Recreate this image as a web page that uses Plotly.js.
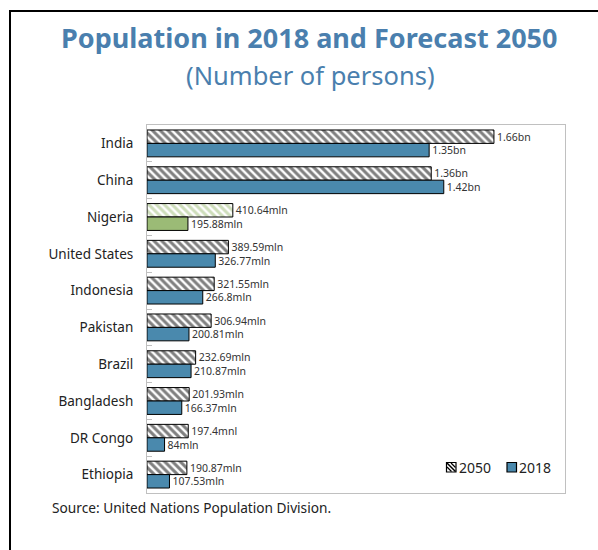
<!DOCTYPE html>
<html><head><meta charset="utf-8">
<script src="https://cdn.plot.ly/plotly-3.0.1.min.js"></script>
<style>html,body{margin:0;padding:0;background:#fff;}#chart{width:598px;height:550px;}</style>
</head><body><div id="chart"></div>
<script>
const countries = ["India","China","Nigeria","United States","Indonesia","Pakistan","Brazil","Bangladesh","DR Congo","Ethiopia"];
const pop2050 = [1660e6,1360e6,410.64e6,389.59e6,321.55e6,306.94e6,232.69e6,201.93e6,197.4e6,190.87e6];
const pop2018 = [1350e6,1420e6,195.88e6,326.77e6,266.8e6,200.81e6,210.87e6,166.37e6,84e6,107.53e6];
const labels2050 = ["1.66bn","1.36bn","410.64mln","389.59mln","321.55mln","306.94mln","232.69mln","201.93mln","197.4mnl","190.87mln"];
const labels2018 = ["1.35bn","1.42bn","195.88mln","326.77mln","266.8mln","200.81mln","210.87mln","166.37mln","84mln","107.53mln"];
const seriesNames = ["2050","2018"];

const BLUE = "#4a89ad", GREEN = "#9bbb76";
const col2018 = countries.map(c => c === "Nigeria" ? GREEN : BLUE);
const hatch2050 = countries.map(c => c === "Nigeria" ? GREEN : "#000000");
const FONT = "Noto Sans, sans-serif";

const L = 147, R = 565, T = 125, B = 493, W = 598, H = 550;
const px = x => (x - L) / (R - L);
const py = y => (B - y) / (B - T);

const traces = [
  {type:"bar", orientation:"h", name:seriesNames[0], y:countries, x:pop2050, text:labels2050,
   textposition:"outside", cliponaxis:false, constraintext:"none",
   textfont:{size:10.5, color:"#333", family:FONT},
   marker:{color:"#ffffff", line:{color:"#000", width:1},
     pattern:{shape:"\\", fgcolor:hatch2050, bgcolor:"#ffffff", size:5.5, solidity:0.55, fillmode:"overlay"}},
   hoverinfo:"none"},
  {type:"bar", orientation:"h", name:seriesNames[1], y:countries, x:pop2018, text:labels2018,
   textposition:"outside", cliponaxis:false, constraintext:"none",
   textfont:{size:10.5, color:"#333", family:FONT},
   marker:{color:col2018, line:{color:"#000", width:1}},
   hoverinfo:"none"}
];

const layout = {
  width:W, height:H,
  margin:{l:L, r:W-R, t:T, b:H-B, pad:0},
  paper_bgcolor:"#fff", plot_bgcolor:"#fff",
  font:{family:FONT, color:"#222"},
  barmode:"group", bargap:0.27, bargroupgap:0,
  showlegend:false,
  xaxis:{range:[0,2.0e9], showticklabels:false, showgrid:false, zeroline:false, ticks:"",
    showline:true, mirror:true, linecolor:"#c0c0c0", linewidth:1, fixedrange:true},
  yaxis:{autorange:"reversed", type:"category", showgrid:false, zeroline:false,
    ticks:"inside", tickson:"boundaries", ticklen:5, tickcolor:"#c0c0c0",
    showline:true, mirror:true, linecolor:"#c0c0c0", linewidth:1,
    tickfont:{size:13.5, color:"#222"}, ticklabelstandoff:10, fixedrange:true},
  annotations:[
    {text:"<b>Population in 2018 and Forecast 2050</b>", xref:"paper", yref:"paper",
     x:px(309), y:py(37), xanchor:"center", yanchor:"middle", showarrow:false,
     font:{size:27, color:"#4a7fae", family:FONT}},
    {text:"(Number of persons)", xref:"paper", yref:"paper",
     x:px(310), y:py(75), xanchor:"center", yanchor:"middle", showarrow:false,
     font:{size:25.5, color:"#4a7fae", family:FONT}},
    {text:"Source: United Nations Population Division.", xref:"paper", yref:"paper",
     x:px(50), y:py(507), xanchor:"left", yanchor:"middle", showarrow:false,
     font:{size:13.7, color:"#222", family:FONT}},
    {text:seriesNames[0], xref:"paper", yref:"paper", x:px(457), y:py(467.5), xanchor:"left", yanchor:"middle",
     showarrow:false, font:{size:14, color:"#222", family:FONT}},
    {text:seriesNames[1], xref:"paper", yref:"paper", x:px(517), y:py(467.5), xanchor:"left", yanchor:"middle",
     showarrow:false, font:{size:14, color:"#222", family:FONT}}
  ],
  shapes:[
    {type:"line", xref:"paper", yref:"paper", x0:px(10), x1:px(10), y0:py(10), y1:py(560), line:{color:"#000", width:2}},
    {type:"line", xref:"paper", yref:"paper", x0:px(9), x1:px(610), y0:py(11), y1:py(11), line:{color:"#000", width:2}},
    {type:"rect", xref:"paper", yref:"paper", x0:px(446.5), x1:px(456), y0:py(472), y1:py(462.5), fillcolor:"#fff", line:{color:"#000", width:1.2}},
    {type:"line", xref:"paper", yref:"paper", x0:px(447), x1:px(455.5), y0:py(463), y1:py(471.5), line:{color:"#000", width:1.5}},
    {type:"line", xref:"paper", yref:"paper", x0:px(451), x1:px(455.5), y0:py(463), y1:py(467.5), line:{color:"#000", width:1.2}},
    {type:"line", xref:"paper", yref:"paper", x0:px(447), x1:px(451.5), y0:py(467), y1:py(471.5), line:{color:"#000", width:1.2}},
    {type:"rect", xref:"paper", yref:"paper", x0:px(507), x1:px(516.5), y0:py(472), y1:py(462.5), fillcolor:BLUE, line:{color:"#000", width:1.2}}
  ]
};

Plotly.newPlot("chart", traces, layout, {displayModeBar:false, staticPlot:true});
</script></body></html>
